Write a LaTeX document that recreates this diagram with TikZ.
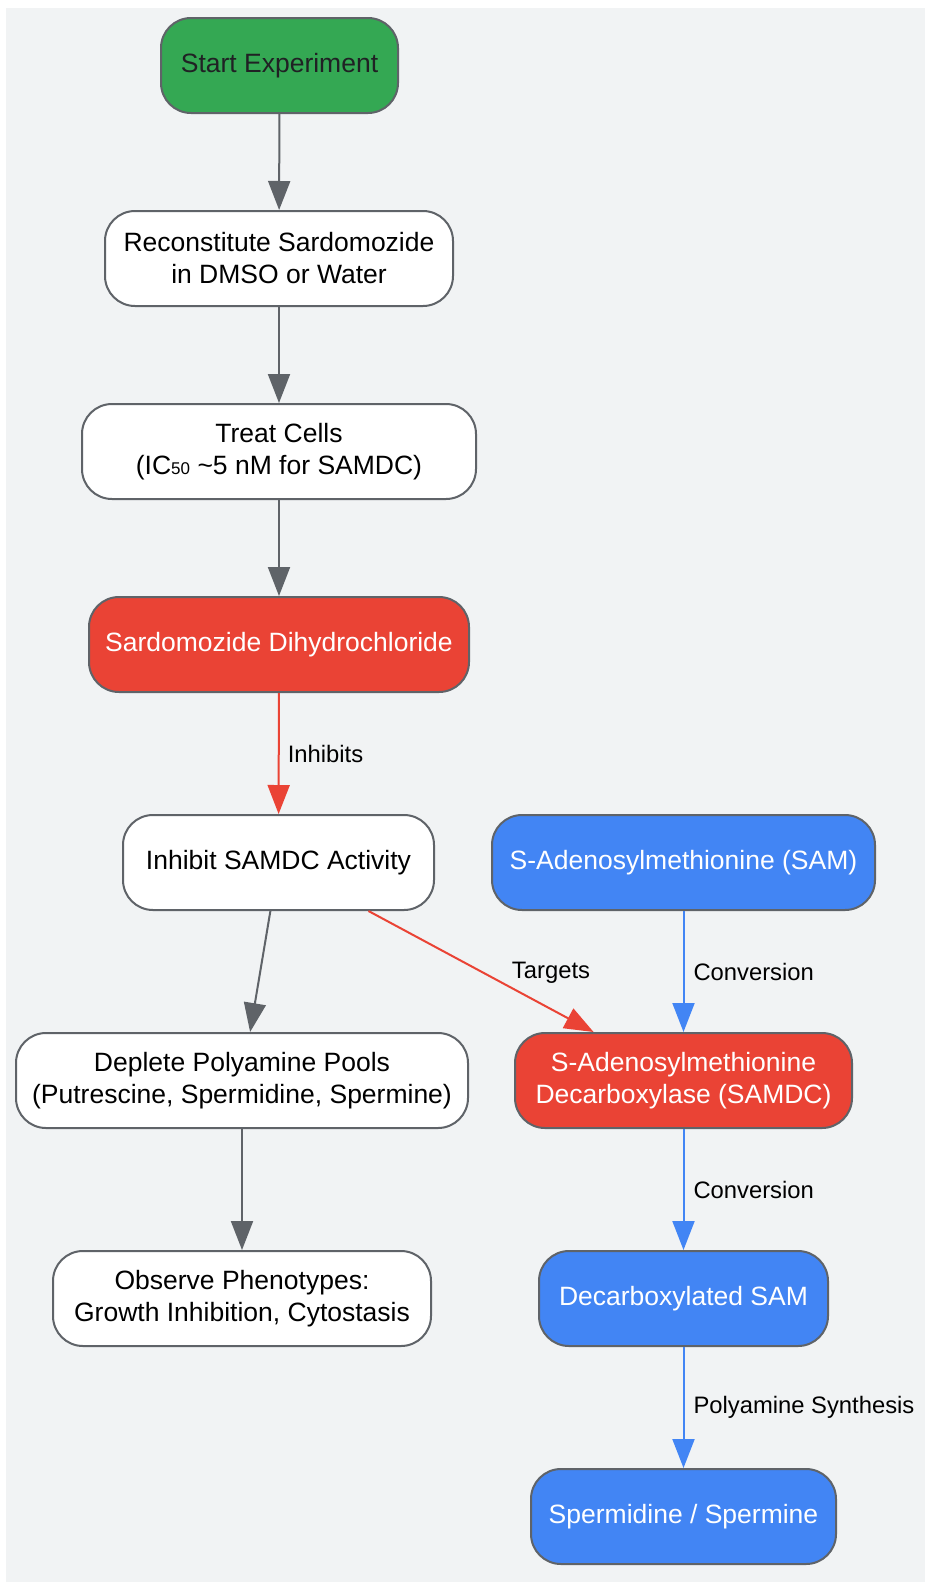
\documentclass[tikz,border=0pt]{standalone}
\usepackage{fontspec}
\setmainfont{Liberation Sans}
\usetikzlibrary{arrows.meta,calc}
\definecolor{bg}{HTML}{F1F3F4}
\definecolor{gborder}{HTML}{5F6368}
\definecolor{ggreen}{HTML}{34A853}
\definecolor{gred}{HTML}{EA4335}
\definecolor{gblue}{HTML}{4285F4}
\definecolor{gtext}{HTML}{202124}
\tikzset{
  box/.style={draw=gborder, line width=2pt, rounded corners=30pt, minimum height=95pt,
    align=center, font=\fontsize{26.5}{32}\selectfont, inner sep=0pt},
  whitebox/.style={box, fill=white, text=black},
  greenbox/.style={box, fill=ggreen, text=gtext},
  redbox/.style={box, fill=gred, text=white},
  bluebox/.style={box, fill=gblue, text=white},
  conn/.style={line width=2pt, -{Triangle[length=29pt,width=22pt]}},
  grayconn/.style={conn, draw=gborder, fill=gborder},
  redconn/.style={conn, draw=gred, fill=gred},
  blueconn/.style={conn, draw=gblue, fill=gblue},
  elabel/.style={font=\fontsize{23.8}{28}\selectfont, text=black, inner sep=0pt}
}
\begin{document}
\begin{tikzpicture}[x=1pt,y=-1pt]
\useasboundingbox (0,0) rectangle (925,1582);
\fill[bg] (6,8) rectangle (925,1582);
\node[greenbox, minimum width=237pt] (start) at (279.5,65.5) {Start Experiment};
\node[whitebox, minimum width=348pt] (recon) at (279,258.5) {Reconstitute Sardomozide\\in DMSO or Water};
\node[whitebox, minimum width=394pt] (treat) at (279,451.5) {Treat Cells\\(IC{\fontsize{17}{17}\selectfont 50} \textasciitilde 5 nM for SAMDC)};
\node[redbox, minimum width=380pt] (sard) at (279,644.5) {Sardomozide Dihydrochloride};
\node[whitebox, minimum width=311pt] (inh) at (278.5,862.5) {Inhibit SAMDC Activity};
\node[bluebox, minimum width=383pt] (sam) at (683.5,862.5) {S-Adenosylmethionine (SAM)};
\node[whitebox, minimum width=452pt] (dep) at (242,1080.5) {Deplete Polyamine Pools\\(Putrescine, Spermidine, Spermine)};
\node[redbox, minimum width=337pt] (samdc) at (683.5,1080.5) {S-Adenosylmethionine\\Decarboxylase (SAMDC)};
\node[whitebox, minimum width=378pt] (obs) at (242,1298.5) {Observe Phenotypes:\\Growth Inhibition, Cytostasis};
\node[bluebox, minimum width=289pt] (dsam) at (683.5,1298.5) {Decarboxylated SAM};
\node[bluebox, minimum width=305pt] (sperm) at (683.5,1516.5) {Spermidine / Spermine};

\draw[grayconn] (start) -- (recon);
\draw[grayconn] (recon) -- (treat);
\draw[grayconn] (treat) -- (sard);
\draw[redconn] (sard) -- node[elabel, right=8pt] (l1) {Inhibits} (inh);
\draw[grayconn] (inh) -- (dep);
\draw[redconn] (inh) -- (samdc);
\node[elabel] (l2) at (551,973) {Targets};
\draw[blueconn] (sam) -- node[elabel, right=9pt] (l3) {Conversion} (samdc);
\draw[grayconn] (dep) -- (obs);
\draw[blueconn] (samdc) -- node[elabel, right=9pt] (l4) {Conversion} (dsam);
\draw[blueconn] (dsam) -- node[elabel, right=9pt] (l5) {Polyamine Synthesis} (sperm);
\end{tikzpicture}
\end{document}
